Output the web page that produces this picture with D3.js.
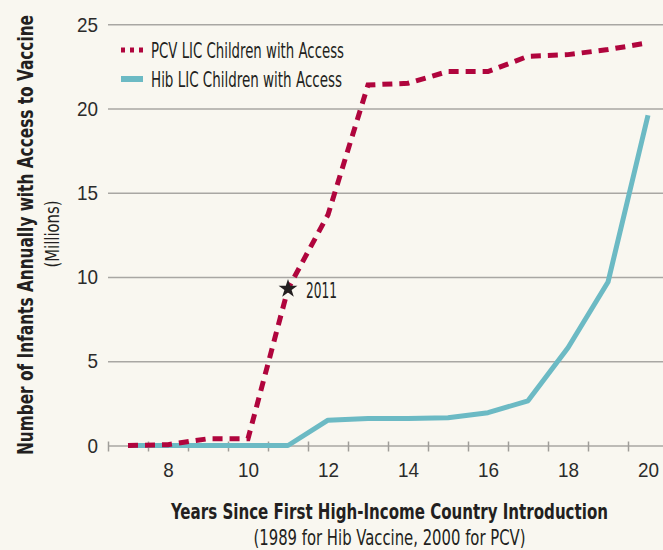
<!DOCTYPE html>
<html>
<head>
<meta charset="utf-8">
<script src="https://cdn.jsdelivr.net/npm/d3@7"></script>
<style>
  html, body { margin: 0; padding: 0; background: #f9f7f0; }
  svg { display: block; font-family: 'Liberation Sans Narrow', 'DejaVu Sans Condensed', sans-serif; }
</style>
</head>
<body>
<div class="chart"></div>
<script>
// years since first high-income country introduction
const years = [7, 8, 9, 10, 11, 12, 13, 14, 15, 16, 17, 18, 19, 20];
// millions of infants in LICs with access
const pcvValues = [0, 0.05, 0.4, 0.4, 9.3, 13.7, 21.4, 21.5, 22.2, 22.2, 23.1, 23.2, 23.5, 23.9];
const hibValues = [0, 0, 0, 0, 0, 1.5, 1.6, 1.6, 1.65, 1.95, 2.65, 5.8, 9.7, 19.6];
const yTicks = [0, 5, 10, 15, 20, 25];
const xLabelTicks = [8, 10, 12, 14, 16, 18, 20];
const xMinorTicks = [6.5, 7.5, 8.5, 9.5, 10.5, 11.5, 12.5, 13.5, 14.5, 15.5, 16.5, 17.5, 18.5, 19.5, 20.5];
const seriesNames = ['PCV LIC Children with Access', 'Hib LIC Children with Access'];
const starYear = 11;
const starLabel = '2011';

const width = 663;
const height = 550;
const margin = {top: 24, right: 0, bottom: 104, left: 108};
const pcvColor = '#b0053d';
const hibColor = '#6cbac4';
const ink = '#231f20';

const svg = d3.select('.chart').append('svg').attr('width', width).attr('height', height);

// squeeze text to the condensed widths of the original typeface
function fit(sel, w) {
  sel.attr('textLength', w).attr('lengthAdjust', 'spacingAndGlyphs');
}

const x = d3.scaleLinear().domain([6.5, 20.5]).range([margin.left, 668]);
const y = d3.scaleLinear().domain([0, 25]).range([height - margin.bottom - 0.5, margin.top + 0.3]);

// gridlines + y labels
const yAxis = svg
  .append('g')
  .attr('transform', `translate(${margin.left},0)`)
  .call(d3.axisLeft(y).tickValues(yTicks).tickSize(-(width - margin.left)).tickPadding(10));
yAxis.select('.domain').remove();
yAxis.selectAll('line').attr('stroke', '#a9a7a3').attr('stroke-width', 1.5);
yAxis
  .selectAll('text')
  .attr('fill', '#2b2b2b')
  .attr('font-size', 21)
  .each(function (d) {
    fit(d3.select(this), String(d).length * 10.5);
  });

// small ticks across the zero line
const xMinor = svg
  .append('g')
  .attr('transform', `translate(0,${y(0) - 4})`)
  .call(d3.axisBottom(x).tickValues(xMinorTicks).tickSize(10).tickFormat(''));
xMinor.select('.domain').remove();
xMinor.selectAll('line').attr('stroke', '#a09e9a').attr('stroke-width', 1.5);

const xAxis = svg
  .append('g')
  .attr('transform', `translate(0,${y(0)})`)
  .call(d3.axisBottom(x).tickValues(xLabelTicks).tickSize(0).tickPadding(17));
xAxis.select('.domain').remove();
xAxis
  .selectAll('text')
  .attr('fill', '#2b2b2b')
  .attr('font-size', 21)
  .each(function (d) {
    fit(d3.select(this), String(d).length * 10.5);
  });

const line = d3
  .line()
  .x((d, i) => x(years[i]))
  .y((d) => y(d));

svg
  .append('path')
  .attr('fill', 'none')
  .attr('stroke', hibColor)
  .attr('stroke-width', 5)
  .attr('stroke-linejoin', 'round')
  .attr('d', line(hibValues));

svg
  .append('path')
  .attr('fill', 'none')
  .attr('stroke', pcvColor)
  .attr('stroke-width', 5)
  .attr('stroke-dasharray', '10,7')
  .attr('d', line(pcvValues));

// 2011 marker
const starValue = pcvValues[years.indexOf(starYear)];
svg
  .append('path')
  .attr('d', d3.symbol(d3.symbolStar, 110)())
  .attr('fill', ink)
  .attr('transform', `translate(${x(starYear)},${y(starValue)})`);
svg
  .append('text')
  .attr('x', x(starYear) + 18)
  .attr('y', y(starValue) + 9)
  .attr('font-size', 21)
  .attr('fill', ink)
  .text(starLabel)
  .call(fit, 31);

// legend
const legend = svg.append('g').attr('transform', 'translate(121,50)');
legend
  .append('line')
  .attr('x1', 0)
  .attr('x2', 22)
  .attr('stroke', pcvColor)
  .attr('stroke-width', 5)
  .attr('stroke-dasharray', '4,5');
legend
  .append('line')
  .attr('x1', 0)
  .attr('x2', 22)
  .attr('y1', 29)
  .attr('y2', 29)
  .attr('stroke', hibColor)
  .attr('stroke-width', 6);
legend
  .selectAll('text')
  .data(seriesNames)
  .join('text')
  .attr('x', 30)
  .attr('y', (d, i) => 8 + i * 29)
  .attr('font-size', 21)
  .attr('fill', ink)
  .text((d) => d)
  .attr('textLength', (d, i) => (i === 0 ? 193 : 191))
  .attr('lengthAdjust', 'spacingAndGlyphs');

// axis titles
const cx = (margin.left + width) / 2 + 4;
svg
  .append('text')
  .attr('x', cx)
  .attr('y', 519)
  .attr('text-anchor', 'middle')
  .attr('font-size', 21)
  .attr('font-weight', 'bold')
  .attr('fill', ink)
  .text('Years Since First High-Income Country Introduction')
  .call(fit, 437);
svg
  .append('text')
  .attr('x', cx)
  .attr('y', 545)
  .attr('text-anchor', 'middle')
  .attr('font-size', 21)
  .attr('fill', ink)
  .text('(1989 for Hib Vaccine, 2000 for PCV)')
  .call(fit, 272);

svg
  .append('text')
  .attr('transform', 'translate(33,235) rotate(-90)')
  .attr('text-anchor', 'middle')
  .attr('font-size', 21)
  .attr('font-weight', 'bold')
  .attr('fill', ink)
  .text('Number of Infants Annually with Access to Vaccine')
  .call(fit, 440);
svg
  .append('text')
  .attr('transform', 'translate(59,234) rotate(-90)')
  .attr('text-anchor', 'middle')
  .attr('font-size', 19)
  .attr('fill', ink)
  .text('(Millions)')
  .call(fit, 67);
</script>
</body>
</html>
